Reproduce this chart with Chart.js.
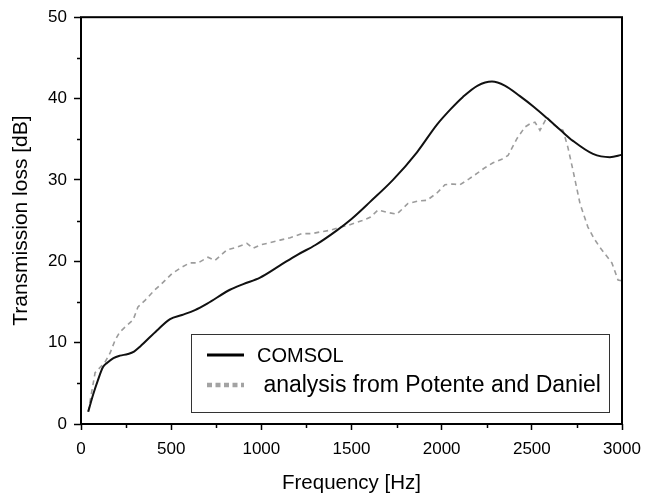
<!DOCTYPE html>
<html>
<head>
<meta charset="utf-8">
<script src="https://cdn.jsdelivr.net/npm/chart.js@4.4.1/dist/chart.umd.min.js"></script>
<style>
html,body{margin:0;padding:0;background:#fff;}
canvas{display:block;}
</style>
</head>
<body>
<canvas id="c" width="654" height="502"></canvas>
<script>
// ---- data ----
const seriesNames = ["COMSOL", " analysis from Potente and Daniel"];

const comsolFreq = [40, 67, 94, 122, 144, 180, 216, 260, 294, 327, 421, 494, 560, 632, 700, 826, 900, 993, 1104, 1200, 1300, 1419, 1500, 1603, 1730, 1863, 1974, 2050, 2118, 2200, 2279, 2350, 2434, 2510, 2584, 2660, 2728, 2839, 2933, 3000];
const comsolTL   = [1.5, 3.6, 5.4, 7.0, 7.5, 8.1, 8.4, 8.6, 8.9, 9.5, 11.5, 12.9, 13.4, 14.0, 14.8, 16.5, 17.2, 18.0, 19.5, 20.8, 22.0, 23.8, 25.2, 27.3, 30.0, 33.4, 36.8, 38.7, 40.2, 41.6, 42.1, 41.6, 40.3, 39.0, 37.6, 36.1, 34.8, 33.2, 32.8, 33.1];

const potenteFreq = [40, 78, 133, 161, 189, 215, 244, 289, 316, 355, 410, 455, 505, 560, 604, 649, 704, 743, 809, 860, 920, 954, 993, 1050, 1104, 1160, 1226, 1280, 1325, 1380, 1436, 1480, 1519, 1560, 1603, 1647, 1700, 1752, 1813, 1870, 1919, 1974, 2018, 2060, 2101, 2150, 2196, 2240, 2285, 2330, 2368, 2418, 2462, 2490, 2517, 2545, 2584, 2610, 2640, 2673, 2700, 2728, 2767, 2811, 2845, 2878, 2944, 2978, 3000];
const potenteTL   = [1.5, 6.3, 7.6, 8.7, 10.3, 11.3, 11.9, 12.8, 14.4, 15.2, 16.5, 17.4, 18.5, 19.3, 19.8, 19.8, 20.5, 20.1, 21.4, 21.7, 22.2, 21.6, 22.0, 22.3, 22.6, 22.9, 23.4, 23.4, 23.6, 23.8, 24.2, 24.4, 24.7, 25.0, 25.4, 26.3, 26.0, 25.8, 27.1, 27.4, 27.5, 28.4, 29.4, 29.5, 29.4, 30.1, 30.8, 31.5, 32.1, 32.5, 33.0, 35.1, 36.5, 36.9, 37.1, 36.1, 37.7, 37.0, 36.5, 36.1, 34.0, 31.2, 27.1, 24.2, 22.8, 21.7, 19.8, 17.7, 17.6];

const xMajorTicks = [0, 500, 1000, 1500, 2000, 2500, 3000];
const xMinorTicks = [250, 750, 1250, 1750, 2250, 2750];
const yMajorTicks = [0, 10, 20, 30, 40, 50];
const yMinorTicks = [5, 15, 25, 35, 45];

const toXY = (xs, ys) => xs.map((x, i) => ({x: x, y: ys[i]}));

const FONT = "'Liberation Sans', Arial, Helvetica, sans-serif";

const framePlugin = {
  id: 'frameAndLegend',
  afterDraw(chart) {
    const ctx = chart.ctx;
    const a = chart.chartArea;
    const xs = chart.scales.x, ys = chart.scales.y;
    ctx.save();
    // frame
    ctx.strokeStyle = '#000';
    ctx.lineWidth = 2;
    ctx.strokeRect(a.left, a.top, a.right - a.left, a.bottom - a.top);
    // minor ticks
    ctx.lineWidth = 1.5;
    ctx.beginPath();
    xMinorTicks.forEach(v => {
      const px = Math.round(xs.getPixelForValue(v)) + 0.5;
      ctx.moveTo(px, a.bottom);
      ctx.lineTo(px, a.bottom + 4);
    });
    yMinorTicks.forEach(v => {
      const py = Math.round(ys.getPixelForValue(v)) + 0.5;
      ctx.moveTo(a.left, py);
      ctx.lineTo(a.left - 4, py);
    });
    ctx.stroke();

    // legend box
    ctx.strokeStyle = '#333';
    ctx.lineWidth = 1;
    ctx.strokeRect(191.5, 334.5, 418, 78);
    const ds = chart.data.datasets;
    const rows = [355, 385];
    const sizes = [20, 23];
    ds.forEach((d, i) => {
      ctx.beginPath();
      ctx.strokeStyle = i === 0 ? '#000' : '#a3a3a3';
      ctx.lineWidth = i === 0 ? 3 : 4.5;
      ctx.setLineDash(i === 0 ? [] : [5, 3.5]);
      ctx.moveTo(207, rows[i]);
      ctx.lineTo(244, rows[i]);
      ctx.stroke();
      ctx.setLineDash([]);
      ctx.fillStyle = '#000';
      ctx.font = sizes[i] + 'px ' + FONT;
      ctx.textBaseline = 'middle';
      ctx.textAlign = 'left';
      ctx.fillText(d.label, 257, rows[i] + 1);
    });
    ctx.restore();
  }
};

new Chart(document.getElementById('c'), {
  type: 'scatter',
  data: {
    datasets: [
      {
        label: seriesNames[0],
        data: toXY(comsolFreq, comsolTL),
        showLine: true,
        borderColor: '#111',
        borderWidth: 2,
        pointRadius: 0,
        cubicInterpolationMode: 'monotone',
        fill: false
      },
      {
        label: seriesNames[1],
        data: toXY(potenteFreq, potenteTL),
        showLine: true,
        borderColor: '#9c9c9c',
        borderWidth: 1.6,
        borderDash: [5, 4],
        pointRadius: 0,
        tension: 0,
        fill: false
      }
    ]
  },
  options: {
    responsive: false,
    animation: false,
    layout: { padding: { left: 0, top: 17, right: 32, bottom: 0 } },
    plugins: {
      legend: { display: false },
      tooltip: { enabled: false }
    },
    scales: {
      x: {
        type: 'linear',
        min: 0, max: 3000,
        afterFit(s) { s.height = 78; },
        afterBuildTicks(s) { s.ticks = xMajorTicks.map(v => ({value: v})); },
        ticks: { color: '#000', padding: 9, font: { family: FONT, size: 17 }, maxRotation: 0, callback: v => String(v) },
        grid: { drawOnChartArea: false, drawTicks: true, tickLength: 6, tickWidth: 1.5, tickColor: '#000' },
        border: { display: false },
        title: { display: true, text: 'Frequency [Hz]', color: '#000', font: { family: FONT, size: 20.5 }, padding: { top: 0, bottom: 6 } }
      },
      y: {
        type: 'linear',
        min: 0, max: 50,
        afterFit(s) { s.width = 81; },
        afterBuildTicks(s) { s.ticks = yMajorTicks.map(v => ({value: v})); },
        ticks: { color: '#000', padding: 7, font: { family: FONT, size: 17 }, callback: v => String(v) },
        grid: { drawOnChartArea: false, drawTicks: true, tickLength: 7, tickWidth: 1.5, tickColor: '#000' },
        border: { display: false },
        title: { display: true, text: 'Transmission loss [dB]', color: '#000', font: { family: FONT, size: 21 }, padding: { top: 9, bottom: 0 } }
      }
    }
  },
  plugins: [framePlugin]
});
</script>
</body>
</html>
